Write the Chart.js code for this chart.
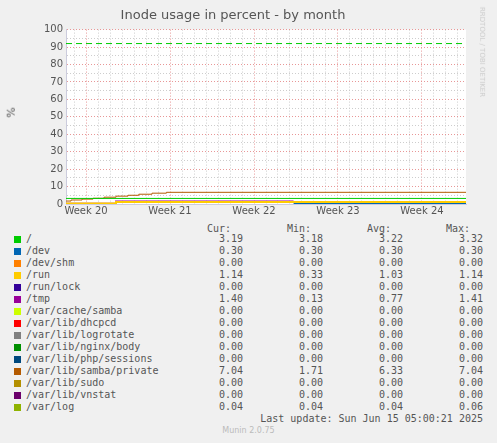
<!DOCTYPE html>
<html><head><meta charset="utf-8">
<script src="https://cdn.jsdelivr.net/npm/chart.js@4/dist/chart.umd.min.js"></script>
<style>
body{margin:0;background:#f0f0f0;width:497px;height:443px;overflow:hidden;position:relative;font-family:"DejaVu Sans",sans-serif;}
#wrap{position:absolute;left:0;top:0;width:497px;height:218px;}
.t{position:absolute;white-space:pre;font-family:"DejaVu Sans Mono",monospace;font-size:10px;color:#555;line-height:12px;}
.sw{position:absolute;width:7px;height:7px;}
.r{text-align:right;}
</style></head><body>
<div id="wrap"><canvas id="c"></canvas></div>
<div style="position:absolute;left:6px;top:106px;transform:rotate(-90deg);font-size:11px;color:#555">%</div>
<div style="position:absolute;left:437px;top:48px;transform:rotate(90deg);font-size:7px;color:#ccc;white-space:nowrap">RRDTOOL / TOBI OETIKER</div>
<div id="legend"></div>
<script>
// x values are days, Week 20 tick = 0
const weekTicks = [0, 7, 14, 21, 28];
const weekLabels = ["Week 20", "Week 21", "Week 22", "Week 23", "Week 24"];
const xMin = -1.67, xMax = 31.67;

const names = ["/", "/dev", "/dev/shm", "/run", "/run/lock", "/tmp", "/var/cache/samba", "/var/lib/dhcpcd",
  "/var/lib/logrotate", "/var/lib/nginx/body", "/var/lib/php/sessions", "/var/lib/samba/private",
  "/var/lib/sudo", "/var/lib/vnstat", "/var/log"];
const colors = ["#00cc00", "#0066b3", "#ff8000", "#ffcc00", "#330099", "#990099", "#ccff00", "#ff0000",
  "#808080", "#008f00", "#00487d", "#b35a00", "#b38f00", "#6b006b", "#8fb300"];
const cur = ["3.19","0.30","0.00","1.14","0.00","1.40","0.00","0.00","0.00","0.00","0.00","7.04","0.00","0.00","0.04"];
const min = ["3.18","0.30","0.00","0.33","0.00","0.13","0.00","0.00","0.00","0.00","0.00","1.71","0.00","0.00","0.04"];
const avg = ["3.22","0.30","0.00","1.03","0.00","0.77","0.00","0.00","0.00","0.00","0.00","6.33","0.00","0.00","0.04"];
const max = ["3.32","0.30","0.00","1.14","0.00","1.41","0.00","0.00","0.00","0.00","0.00","7.04","0.00","0.00","0.06"];

// step series as [day, value]
const rootSeries = [[-1.67, 3.19], [31.67, 3.19]];
const devSeries = [[17.3, 0.3], [31.67, 0.3]];
const runSeries = [[-1.67, 0.33], [2.5, 0.33], [2.5, 1.14], [31.67, 1.14]];
const tmpSeries = [[-1.67, 0.13], [2.5, 0.13], [2.5, 1.4], [17.3, 1.4]];
const sambaSeries = [[-1.67, 1.7], [-1.25, 1.7], [-1.25, 2.3], [-0.33, 2.3], [-0.33, 2.8], [0.58, 2.8], [0.58, 3.3],
  [1.5, 3.3], [1.5, 3.9], [2.5, 3.9], [2.5, 4.5], [3.5, 4.5], [3.5, 5.0], [4.4, 5.0], [4.4, 5.6],
  [5.5, 5.6], [5.5, 6.2], [6.7, 6.2], [6.7, 6.7], [31.67, 6.7]];
const warnLevel = 92;

const toPts = s => s.map(p => ({x: p[0], y: p[1]}));

const bgPlugin = {
  id: "bg",
  beforeDraw(chart) {
    const a = chart.chartArea, ctx = chart.ctx;
    ctx.save(); ctx.fillStyle = "#fff";
    ctx.fillRect(a.left, a.top, a.right - a.left, a.bottom - a.top); ctx.restore();
  }
};

new Chart(document.getElementById("c"), {
  type: "line",
  data: {datasets: [
    {data: toPts([[xMin, warnLevel], [xMax, warnLevel]]), borderColor: "#00cc00", borderDash: [6, 4], borderWidth: 1},
    {data: toPts(rootSeries), borderColor: colors[0], borderWidth: 1},
    {data: toPts(sambaSeries), borderColor: colors[11], borderWidth: 1},
    {data: toPts(runSeries), borderColor: colors[3], borderWidth: 2},
    {data: toPts(tmpSeries), borderColor: colors[5], borderWidth: 2},
    {data: toPts(devSeries), borderColor: colors[1], borderWidth: 2}
  ]},
  options: {
    responsive: true, maintainAspectRatio: false, animation: false,
    layout: {padding: {top: 0, right: 31, left: 0, bottom: 0}},
    elements: {point: {radius: 0}, line: {tension: 0}},
    plugins: {
      legend: {display: false}, tooltip: {enabled: false},
      title: {display: true, text: "Inode usage in percent - by month", color: "#555",
        font: {family: "DejaVu Sans", size: 13, weight: "normal"}, padding: {top: 8, bottom: 6}}
    },
    scales: {
      x: {type: "linear", min: xMin, max: xMax,
        afterBuildTicks: ax => {
          const t = [];
          for (let d = -1; d <= 31; d++) t.push({value: d});
          ax.ticks = t;
        },
        ticks: {autoSkip: false, maxRotation: 0, color: "#555", font: {family: "DejaVu Sans", size: 10}, padding: 1,
          callback: v => { const i = weekTicks.indexOf(v); return i >= 0 ? weekLabels[i] : ""; }},
        grid: {color: c => weekTicks.includes(c.tick && c.tick.value) ? "rgba(230,140,140,0.9)" : "rgba(200,200,200,0.9)",
          drawTicks: false},
        border: {display: true, color: "#ccd", dash: [1, 2]}
      },
      y: {min: 0, max: 100,
        afterFit: ax => { ax.width = 66; },
        ticks: {stepSize: 5, autoSkip: false, color: "#555", font: {family: "DejaVu Sans", size: 10}, padding: 3,
          callback: v => v % 10 === 0 ? v : ""},
        grid: {color: c => c.tick && c.tick.value % 10 === 0 ? "rgba(230,140,140,0.9)" : "rgba(200,200,200,0.9)",
          drawTicks: false},
        border: {display: true, color: "#ccd", dash: [1, 2]}
      }
    }
  },
  plugins: [bgPlugin]
});

// legend table
const lg = document.getElementById("legend");
let html = "";
const hdr = [["Cur:", 231], ["Min:", 311], ["Avg:", 391], ["Max:", 470]];
hdr.forEach(h => { html += `<div class="t r" style="left:${h[1]-60}px;top:223px;width:60px">${h[0]}</div>`; });
names.forEach((n, i) => {
  const y = 233 + i * 12;
  html += `<div class="sw" style="left:14px;top:${y+3}px;background:${colors[i]}"></div>`;
  html += `<div class="t" style="left:26px;top:${y}px">${n}</div>`;
  [[cur, 243], [min, 323], [avg, 403], [max, 483]].forEach(c => {
    html += `<div class="t r" style="left:${c[1]-60}px;top:${y}px;width:60px">${c[0][i]}</div>`;
  });
});
html += `<div class="t r" style="left:183px;top:413px;width:300px">Last update: Sun Jun 15 05:00:21 2025</div>`;
html += `<div style="position:absolute;left:0;width:497px;text-align:center;top:426px;font-size:8px;color:#bbb">Munin 2.0.75</div>`;
lg.innerHTML = html;
</script>
</body></html>
